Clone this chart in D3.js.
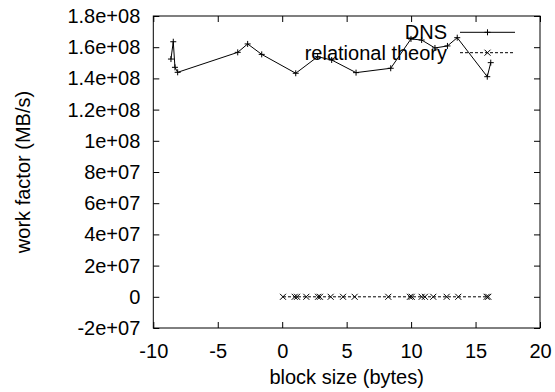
<!DOCTYPE html>
<html>
<head>
<meta charset="utf-8">
<script src="https://cdn.jsdelivr.net/npm/d3@7"></script>
<style>
  html, body { margin: 0; padding: 0; background: #fff; }
  svg { display: block; }
  text { font-family: "Liberation Sans", Arial, sans-serif; fill: #000; }
</style>
</head>
<body>
<svg id="chart" width="555" height="392"></svg>
<script>
// ---- data ----
const dnsX = [-8.63, -8.45, -8.32, -8.11, -3.45, -2.68, -1.59, 1.05, 2.75, 3.84, 5.73, 8.42, 9.99, 10.82, 11.85, 12.82, 13.58, 15.91, 16.18];
const dnsY = [152.4e6, 163.5e6, 147.1e6, 143.9e6, 156.7e6, 162.1e6, 155.4e6, 143.3e6, 153.9e6, 151.8e6, 143.7e6, 146.5e6, 165.3e6, 164.6e6, 159.5e6, 160.8e6, 166.1e6, 141.1e6, 150.1e6];
const relX = [0.06, 0.97, 1.15, 1.87, 2.78, 2.93, 3.76, 4.72, 5.62, 8.23, 9.91, 10.05, 10.82, 11.07, 11.72, 12.76, 13.66, 15.86, 15.99];
const relY = [0, 0, 0, 0, 0, 0, 0, 0, 0, 0, 0, 0, 0, 0, 0, 0, 0, 0, 0];
const xTicks = [-10, -5, 0, 5, 10, 15, 20];
const xTickLabels = ["-10", "-5", "0", "5", "10", "15", "20"];
const yTicks = [-2e7, 0, 2e7, 4e7, 6e7, 8e7, 1e8, 1.2e8, 1.4e8, 1.6e8, 1.8e8];
const yTickLabels = ["-2e+07", "0", "2e+07", "4e+07", "6e+07", "8e+07", "1e+08", "1.2e+08", "1.4e+08", "1.6e+08", "1.8e+08"];
const seriesNames = ["DNS", "relational theory"];
const xTitle = "block size (bytes)";
const yTitle = "work factor (MB/s)";

// ---- layout ----
const L = 153.3, R = 540, T = 16, B = 328;
const FS = 20;
const svg = d3.select("#chart");
const x = d3.scaleLinear().domain([-10, 20]).range([L, R]);
const y = d3.scaleLinear().domain([-2e7, 1.8e8]).range([B, T]);
const tickLen = 6;

// frame
svg.append("rect").attr("x", L).attr("y", T).attr("width", R - L).attr("height", B - T)
  .attr("fill", "none").attr("stroke", "#000").attr("stroke-width", 1);

// axes (ticks inward, mirrored)
const fmtX = d => xTickLabels[xTicks.indexOf(d)];
const fmtY = d => yTickLabels[yTicks.indexOf(d)];
const gB = svg.append("g").attr("transform", `translate(0,${B})`)
  .call(d3.axisBottom(x).tickValues(xTicks).tickSize(-tickLen).tickPadding(tickLen + 10).tickFormat(fmtX));
const gT = svg.append("g").attr("transform", `translate(0,${T})`)
  .call(d3.axisTop(x).tickValues(xTicks).tickSize(-tickLen).tickFormat(""));
const gL = svg.append("g").attr("transform", `translate(${L},0)`)
  .call(d3.axisLeft(y).tickValues(yTicks).tickSize(-tickLen).tickPadding(tickLen + 7).tickFormat(fmtY));
const gR = svg.append("g").attr("transform", `translate(${R},0)`)
  .call(d3.axisRight(y).tickValues(yTicks).tickSize(-tickLen).tickFormat(""));
[gB, gT, gL, gR].forEach(g => {
  g.select(".domain").remove();
  g.selectAll("line").attr("stroke", "#000");
  g.selectAll("text").attr("font-size", FS).attr("font-family", '"Liberation Sans", Arial, sans-serif').attr("fill", "#000");
});

// titles
svg.append("text").attr("x", (L + R) / 2).attr("y", 384).attr("text-anchor", "middle")
  .attr("font-size", FS).text(xTitle);
svg.append("text").attr("transform", `translate(30,${(T + B) / 2}) rotate(-90)`).attr("text-anchor", "middle")
  .attr("font-size", FS).text(yTitle);

// markers
function plus(g, cx, cy, s) {
  g.append("path").attr("d", `M${cx - s},${cy}H${cx + s}M${cx},${cy - s}V${cy + s}`)
    .attr("stroke", "#000").attr("stroke-width", 1).attr("fill", "none");
}
function cross(g, cx, cy, s) {
  g.append("path").attr("d", `M${cx - s},${cy - s}L${cx + s},${cy + s}M${cx - s},${cy + s}L${cx + s},${cy - s}`)
    .attr("stroke", "#000").attr("stroke-width", 1).attr("fill", "none");
}

const line = d3.line().x(d => x(d[0])).y(d => y(d[1]));
const dns = dnsX.map((v, i) => [v, dnsY[i]]);
const rel = relX.map((v, i) => [v, relY[i]]);

const gData = svg.append("g");
gData.append("path").attr("d", line(dns)).attr("fill", "none").attr("stroke", "#000").attr("stroke-width", 1);
dns.forEach(d => plus(gData, x(d[0]), y(d[1]), 3));
gData.append("path").attr("d", line(rel)).attr("fill", "none").attr("stroke", "#000").attr("stroke-width", 1)
  .attr("stroke-dasharray", "3,2");
rel.forEach(d => cross(gData, x(d[0]), y(d[1]), 3));

// legend
const legY = [32.3, 52.7];
const lx0 = 460, lx1 = 515, textR = 447;
seriesNames.forEach((name, i) => {
  svg.append("text").attr("x", textR).attr("y", legY[i] + 7).attr("text-anchor", "end")
    .attr("font-size", FS).text(name);
  const ln = svg.append("line").attr("x1", lx0).attr("x2", lx1).attr("y1", legY[i]).attr("y2", legY[i])
    .attr("stroke", "#000").attr("stroke-width", 1);
  if (i === 1) ln.attr("stroke-dasharray", "3,2");
  if (i === 0) plus(svg, (lx0 + lx1) / 2, legY[i], 3); else cross(svg, (lx0 + lx1) / 2, legY[i], 3);
});
</script>
</body>
</html>
